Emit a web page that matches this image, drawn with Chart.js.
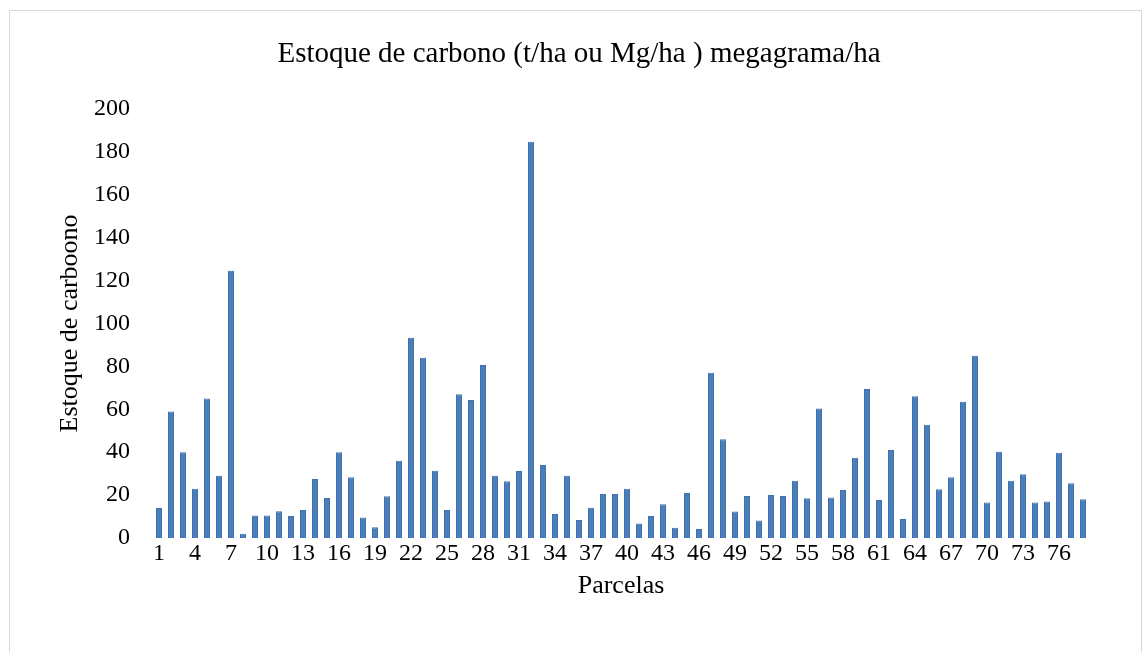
<!DOCTYPE html>
<html>
<head>
<meta charset="utf-8">
<script src="https://cdn.jsdelivr.net/npm/chart.js@4/dist/chart.umd.min.js"></script>
<style>
  html, body { margin: 0; padding: 0; background: #fff; }
  #wrap { position: relative; width: 1144px; height: 652px; }
  #marco { position: absolute; left: 9px; top: 10px; width: 1133px; height: 660px; border: 1px solid #d9d9d9; box-sizing: border-box; }
</style>
</head>
<body>
<div id="wrap">
  <div id="marco"></div>
  <canvas id="estoque_carbono" width="1144" height="652"></canvas>
</div>
<script>
// Estoque de carbono por parcela
const parcelas = [];
for (let i = 1; i <= 78; i++) parcelas.push(String(i));

const estoque = [
  14, 59, 40, 23, 65, 29, 124.5, 2, 10.5, 10.5,
  12.5, 10.3, 13, 27.5, 18.6, 40, 28.3, 9.6, 5, 19.4,
  36, 93.3, 84, 31.3, 13, 67, 64.3, 80.6, 29, 26.5,
  31.2, 184.6, 34, 11.2, 29, 8.4, 14.1, 20.5, 20.5, 23,
  6.8, 10.3, 15.7, 4.8, 21, 4.2, 77, 46, 12.3, 19.6,
  8.1, 20, 19.6, 26.7, 18.5, 60.4, 18.9, 22.4, 37.4, 69.4,
  17.7, 41, 8.8, 66.1, 52.8, 22.7, 28.3, 63.5, 84.9, 16.6,
  40.2, 26.7, 29.7, 16.5, 17, 39.7, 25.5, 18
];

const yTicks = [0, 20, 40, 60, 80, 100, 120, 140, 160, 180, 200];

const fuente = 'Liberation Serif';
Chart.defaults.color = '#000';

const ctx = document.getElementById('estoque_carbono').getContext('2d');
const grafico = new Chart(ctx, {
  type: 'bar',
  data: {
    labels: parcelas,
    datasets: [{
      label: 'Estoque de carbono',
      data: estoque,
      backgroundColor: '#4a7dba',
      borderColor: '#4071ad',
      borderWidth: 1,
      barPercentage: 0.5,
      categoryPercentage: 1.0
    }]
  },
  options: {
    responsive: false,
    animation: false,
    layout: {
      padding: { top: 10, left: 14, right: 0, bottom: 0 }
    },
    scales: {
      x: {
        afterFit: function (axis) {
          axis.height = 114;
        },
        grid: { display: false, drawTicks: false },
        border: { display: false },
        ticks: {
          autoSkip: false,
          maxRotation: 0,
          padding: 1,
          font: { family: fuente, size: 24 },
          callback: function (value, index) {
            return index % 3 === 0 ? parcelas[index] : '';
          }
        },
        title: {
          display: true,
          text: 'Parcelas',
          font: { family: fuente, size: 26 },
          padding: { top: 4, bottom: 50 }
        }
      },
      y: {
        min: 0,
        max: 200,
        afterBuildTicks: function (axis) {
          axis.ticks = yTicks.map(v => ({ value: v }));
        },
        afterFit: function (axis) {
          axis.width = 139;
        },
        grid: { display: false, drawTicks: false },
        border: { display: false },
        ticks: {
          padding: 23,
          font: { family: fuente, size: 24 }
        },
        title: {
          display: true,
          text: 'Estoque de carboono',
          font: { family: fuente, size: 26 },
          padding: { top: 41, bottom: 0 }
        }
      },
      // eje vacio a la derecha, solo para dejar el margen
      margen: {
        position: 'right',
        afterFit: function (axis) {
          axis.width = 55;
        },
        grid: { display: false, drawTicks: false },
        border: { display: false },
        ticks: { display: false }
      }
    },
    plugins: {
      legend: { display: false },
      tooltip: { enabled: false },
      title: {
        display: true,
        text: 'Estoque de carbono (t/ha ou Mg/ha ) megagrama/ha',
        font: { family: fuente, size: 29, weight: 'normal' },
        padding: { top: 27, bottom: 37 }
      }
    }
  }
});
</script>
</body>
</html>
